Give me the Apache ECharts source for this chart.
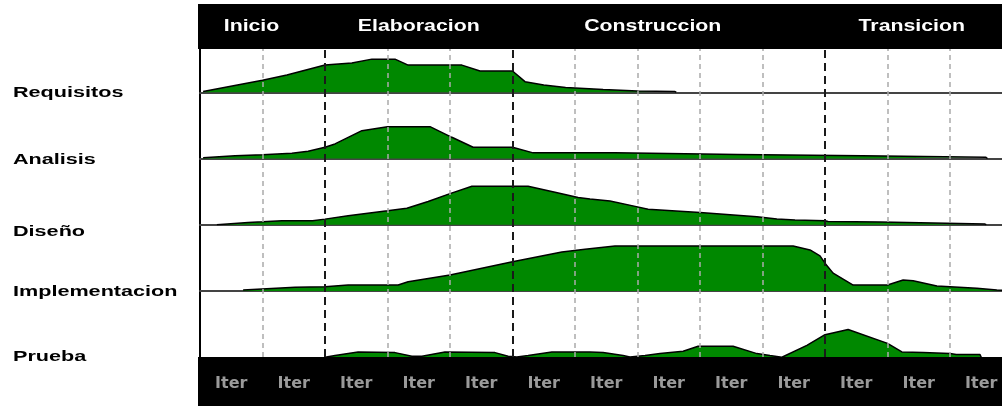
<!DOCTYPE html>
<html>
<head>
<meta charset="utf-8">
<script src="https://cdn.jsdelivr.net/npm/echarts@6/dist/echarts.min.js"></script>
<style>
html,body{margin:0;padding:0;background:#fff;}
#chart{width:1002px;height:406px;}
</style>
</head>
<body>
<div id="chart"></div>
<script>
// ---------- data ----------
const iterLabels = ['Iter','Iter','Iter','Iter','Iter','Iter','Iter','Iter','Iter','Iter','Iter','Iter','Iter'];
const phaseNames = ['Inicio','Elaboracion','Construccion','Transicion'];
const phaseBounds = [0, 2, 5, 10, 13];
const disciplines = ['Requisitos','Analisis','Diseño','Implementacion','Prueba'];

// [iteration position, effort 0-100]
const requisitos = [[0.05,1],[1.0,18],[1.39,26],[2.0,41],[2.43,44],[2.75,50],[3.12,50],[3.33,41],[4.19,41],[4.48,32],[5.0,32],[5.2,16],[5.5,11],[5.85,7],[6.45,4],[7.0,2],[7.6,1],[7.62,0]];
const analisis = [[0.05,1],[0.56,4],[1.0,5.5],[1.47,8],[1.73,11],[2.0,17],[2.16,22],[2.59,42],[3.0,48],[3.68,48],[4.03,32],[4.37,17],[5.0,17],[5.33,8.5],[6.64,8.5],[6.66,6],[8.6,6],[8.62,4],[10.6,4],[10.62,2],[12.57,2],[12.6,0]];
const diseno = [[0.27,0],[0.77,3.5],[1.0,4.5],[1.31,6],[1.8,6],[2.0,8.5],[2.37,13.5],[3.0,21],[3.31,25],[3.65,35],[4.0,47],[4.35,58],[5.25,58],[5.68,49],[6.05,41],[6.24,39],[6.56,36],[7.0,27],[7.17,23.5],[8.0,18.5],[8.91,12],[9.23,8.5],[9.52,7],[10.0,6],[10.05,5],[10.88,4],[10.9,2.5],[11.73,2.5],[11.76,1],[12.56,1],[12.58,0]];
const implementacion = [[0.69,1.5],[1.52,5.5],[2.0,6.5],[2.37,9],[3.17,9],[3.33,14],[4.0,24],[5.0,44],[5.79,59],[6.16,63],[6.64,68],[9.49,68],[9.76,62],[9.92,53],[10.0,42],[10.13,27],[10.45,9],[11.0,9],[11.25,16.5],[11.41,15.5],[11.79,7.5],[12.0,6.5],[12.43,4],[12.75,1.5],[12.9,1]];
const prueba = [[2.0,0],[2.16,2.5],[2.53,8],[3.12,7],[3.39,1.5],[3.55,1.5],[3.92,8],[4.72,7],[4.93,1.5],[5.07,0.5],[5.25,2.5],[5.63,8],[6.24,8],[6.45,7],[6.77,2.5],[6.88,0.5],[7.12,2.5],[7.36,5.5],[7.73,9],[7.97,16.5],[8.53,16.5],[8.91,5.5],[9.12,2.5],[9.31,0],[9.71,18],[10.0,34],[10.37,42],[11.0,21],[11.23,8],[11.57,7],[12.0,5.5],[12.1,4],[12.48,4],[12.5,0]];

const rowSeries = [requisitos, analisis, diseno, implementacion, prueba];

// ---------- layout ----------
const LEFT = 200, UNIT = 62.5, W = UNIT * iterLabels.length;
const ROW_H = 66.25, FIRST_TOP = 26;
const BAR_TOP = [4, 49], BAR_BOTTOM = [357, 406];
const rowLabelDy = [1, 1, 7, 1, 0];
const phaseShift = [-11, 0, -16, -7];
const GREEN = '#008800';

const grids = [], xAxes = [], yAxes = [], series = [], graphics = [];
rowSeries.forEach((d, i) => {
  grids.push({left: LEFT, width: W, top: FIRST_TOP + i * ROW_H, height: ROW_H, outerBoundsMode: 'none', containLabel: false});
  xAxes.push({gridIndex: i, type: 'value', min: 0, max: iterLabels.length,
    axisLine: {show: true, onZero: false, lineStyle: {color: '#444', width: 2}},
    axisTick: {show: false}, axisLabel: {show: false}, splitLine: {show: false}});
  yAxes.push({gridIndex: i, type: 'value', min: 0, max: 100,
    axisLine: {show: true, onZero: false, lineStyle: {color: '#000', width: 2}},
    axisTick: {show: false}, axisLabel: {show: false}, splitLine: {show: false}});
  series.push({type: 'line', xAxisIndex: i, yAxisIndex: i, data: d,
    showSymbol: false, symbol: 'none', z: 2,
    lineStyle: {color: '#000', width: 1.5},
    areaStyle: {color: GREEN, opacity: 1}});
});

// overlay grid for iteration lines & labels
const OV = rowSeries.length;
grids.push({left: LEFT, width: W, top: BAR_TOP[1], height: BAR_BOTTOM[0] - BAR_TOP[1], outerBoundsMode: 'none', containLabel: false});
xAxes.push({gridIndex: OV, type: 'value', min: 0, max: iterLabels.length, show: false});
xAxes.push({gridIndex: OV, type: 'category', data: iterLabels, position: 'bottom', z: 60,
  axisLine: {show: false}, axisTick: {show: false}, splitLine: {show: false},
  axisLabel: {show: true, interval: 0, margin: 19, color: '#9a9a9a',
    fontFamily: 'DejaVu Sans', fontWeight: 'bold', fontSize: 16}});
yAxes.push({gridIndex: OV, type: 'value', min: 0, max: 1, show: false});

const lineData = [];
for (let k = 1; k < iterLabels.length; k++) {
  if (phaseBounds.indexOf(k) >= 0) {
    lineData.push({xAxis: k, lineStyle: {color: '#1a1a1a', width: 2, type: [8, 5]}});
  } else {
    lineData.push({xAxis: k, lineStyle: {color: '#aaaaaa', width: 1.5, type: [5, 4]}});
  }
}
series.push({type: 'line', xAxisIndex: OV, yAxisIndex: OV, data: [[0, 0]], z: 5,
  showSymbol: false, symbol: 'none', lineStyle: {opacity: 0},
  markLine: {silent: true, symbol: ['none', 'none'], label: {show: false},
    emphasis: {disabled: true}, data: lineData}});

// black bars
graphics.push({type: 'rect', z: 50, shape: {x: 198, y: BAR_TOP[0], width: 1002 - 198, height: BAR_TOP[1] - BAR_TOP[0]}, style: {fill: '#000'}});
graphics.push({type: 'rect', z: 50, shape: {x: 198, y: BAR_BOTTOM[0], width: 1002 - 198, height: BAR_BOTTOM[1] - BAR_BOTTOM[0]}, style: {fill: '#000'}});

// phase labels
phaseNames.forEach((p, i) => {
  const cx = LEFT + UNIT * (phaseBounds[i] + phaseBounds[i + 1]) / 2 + phaseShift[i];
  graphics.push({type: 'text', z: 70, x: cx, y: (BAR_TOP[0] + BAR_TOP[1]) / 2, scaleX: 1.33,
    style: {text: p, fill: '#fff', font: 'bold 16px "Liberation Sans", Arial, sans-serif',
      align: 'center', verticalAlign: 'middle', textAlign: 'center', textVerticalAlign: 'middle'}});
});

// discipline labels
disciplines.forEach((name, i) => {
  const base = FIRST_TOP + (i + 1) * ROW_H;
  graphics.push({type: 'text', z: 70, x: 13, y: base + rowLabelDy[i], scaleX: 1.44,
    style: {text: name, fill: '#000', font: 'bold 15px "Liberation Sans", Arial, sans-serif',
      align: 'left', verticalAlign: 'middle', textAlign: 'left', textVerticalAlign: 'middle'}});
});

const chart = echarts.init(document.getElementById('chart'), null, {renderer: 'canvas'});
chart.setOption({
  animation: false,
  backgroundColor: '#fff',
  grid: grids, xAxis: xAxes, yAxis: yAxes, series: series,
  graphic: {elements: graphics}
});
</script>
</body>
</html>
